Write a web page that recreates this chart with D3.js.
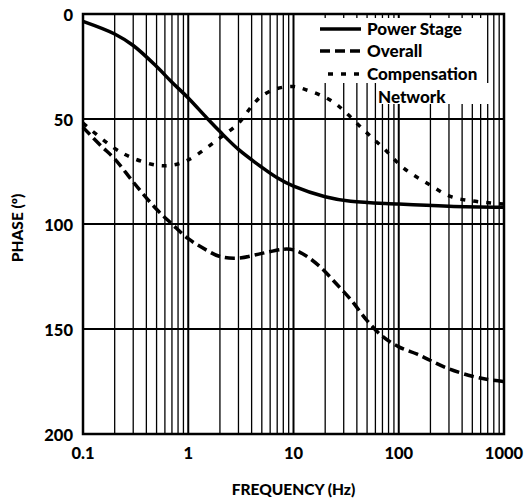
<!DOCTYPE html>
<html><head><meta charset="utf-8">
<script src="https://cdn.jsdelivr.net/npm/d3@7"></script>
<style>body{margin:0;background:#fff}text{font-family:Lato,"Open Sans",sans-serif;font-weight:900;fill:#000}</style>
</head><body><svg id="c" width="526" height="499"></svg>
<script>
const powerFreq  = [0.1,0.2,0.3,0.5,0.7,1,1.5,2,3,5,7,10,20,35,100,300,1000];
const powerPhase = [3.5,9.5,15,25,32.5,40,49.5,56,64.5,73,78,82,87,89.2,90.5,91.5,92];
const overallFreq  = [0.1,0.15,0.2,0.3,0.5,0.7,1,1.5,2,3,5,8,10,13,18,25,35,50,70,100,150,200,300,500,700,1000];
const overallPhase = [54,63,69,80,93,100,107,112.5,115.5,116.2,114,112,112.3,115,120.5,128,136,146,153.5,158.5,162,165,169,172.5,174,175];
const compFreq  = [0.1,0.2,0.3,0.5,0.7,1,2,3,4,5,7,10,13,18,24,30,46,72,112,186,314,500,750,1000];
const compPhase = [52,64,68.7,72,72,69.5,59,52,44,39,35.5,34.5,36,38.6,42,46,55,64,73.5,80.6,87,89,90,90.5];
const xTicks = [0.1,1,10,100,1000];
const xTickLabels = ["0.1","1","10","100","1000"];
const yTicks = [0,50,100,150,200];
const legendLabels = ["Power Stage","Overall","Compensation"];

const svg = d3.select("#c");
const L=83,R=504,T=14,B=434;
const x = d3.scaleLog().domain([0.1,1000]).range([L,R]);
const y = d3.scaleLinear().domain([0,200]).range([T,B]);

// vertical grid
const minor=[];
for(let d=0.1; d<1000; d*=10){ for(let k=2;k<=9;k++) minor.push(+(d*k).toPrecision(3)); }
svg.append("g").selectAll("line").data(minor).join("line")
  .attr("x1",d=>x(d)).attr("x2",d=>x(d)).attr("y1",T).attr("y2",B)
  .attr("stroke","#000").attr("stroke-width",1.3);
svg.append("g").selectAll("line").data([1,10,100]).join("line")
  .attr("x1",d=>x(d)).attr("x2",d=>x(d)).attr("y1",T).attr("y2",B)
  .attr("stroke","#000").attr("stroke-width",2);
svg.append("g").selectAll("line").data([50,100,150]).join("line")
  .attr("x1",L).attr("x2",R).attr("y1",d=>y(d)).attr("y2",d=>y(d))
  .attr("stroke","#000").attr("stroke-width",2);

// curves
const line = d3.line().curve(d3.curveCatmullRom.alpha(0.5));
function draw(fr,ph,dash){
  svg.append("path").attr("d",line(fr.map((f,i)=>[x(f),y(ph[i])])))
    .attr("fill","none").attr("stroke","#000").attr("stroke-width",3.5)
    .attr("stroke-dasharray",dash);
}
draw(powerFreq,powerPhase,null);
draw(overallFreq,overallPhase,"10,5");
draw(compFreq,compPhase,"5,8");

// border
svg.append("rect").attr("x",L).attr("y",T).attr("width",R-L).attr("height",B-T)
  .attr("fill","none").attr("stroke","#000").attr("stroke-width",2.5);

// legend
svg.append("rect").attr("x",317).attr("y",18).attr("width",166).attr("height",65).attr("fill","#fff");
svg.append("rect").attr("x",377).attr("y",83).attr("width",116).attr("height",21).attr("fill","#fff");
const lg=[{y:29,dash:null,x1:320},{y:51,dash:"10,5",x1:320},{y:74,dash:"5,8",x1:328}];
lg.forEach((o,i)=>{
  svg.append("line").attr("x1",o.x1).attr("x2",361).attr("y1",o.y).attr("y2",o.y)
    .attr("stroke","#000").attr("stroke-width",3.5).attr("stroke-dasharray",o.dash);
  svg.append("text").attr("x",367).attr("y",o.y).attr("dy","0.35em").attr("font-size",17).text(legendLabels[i]);
});
svg.append("text").attr("x",378).attr("y",97).attr("dy","0.35em").attr("font-size",17).text("Network");

// axes labels
svg.append("g").selectAll("text").data(xTicks).join("text")
  .attr("x",d=>x(d)).attr("y",453).attr("dy","0.35em").attr("text-anchor","middle")
  .attr("font-size",16.5).text((d,i)=>xTickLabels[i]);
svg.append("g").selectAll("text").data(yTicks).join("text")
  .attr("x",73).attr("y",d=>y(d)+1.5).attr("dy","0.35em").attr("text-anchor","end")
  .attr("font-size",16.5).text(d=>d);
svg.append("text").attr("x",(L+R)/2).attr("y",490).attr("dy","0.35em").attr("text-anchor","middle")
  .attr("font-size",15.5).text("FREQUENCY (Hz)");
svg.append("text").attr("transform","translate(18,228) rotate(-90)").attr("dy","0.35em")
  .attr("text-anchor","middle").attr("font-size",15.5).text("PHASE (º)");
</script></body></html>
